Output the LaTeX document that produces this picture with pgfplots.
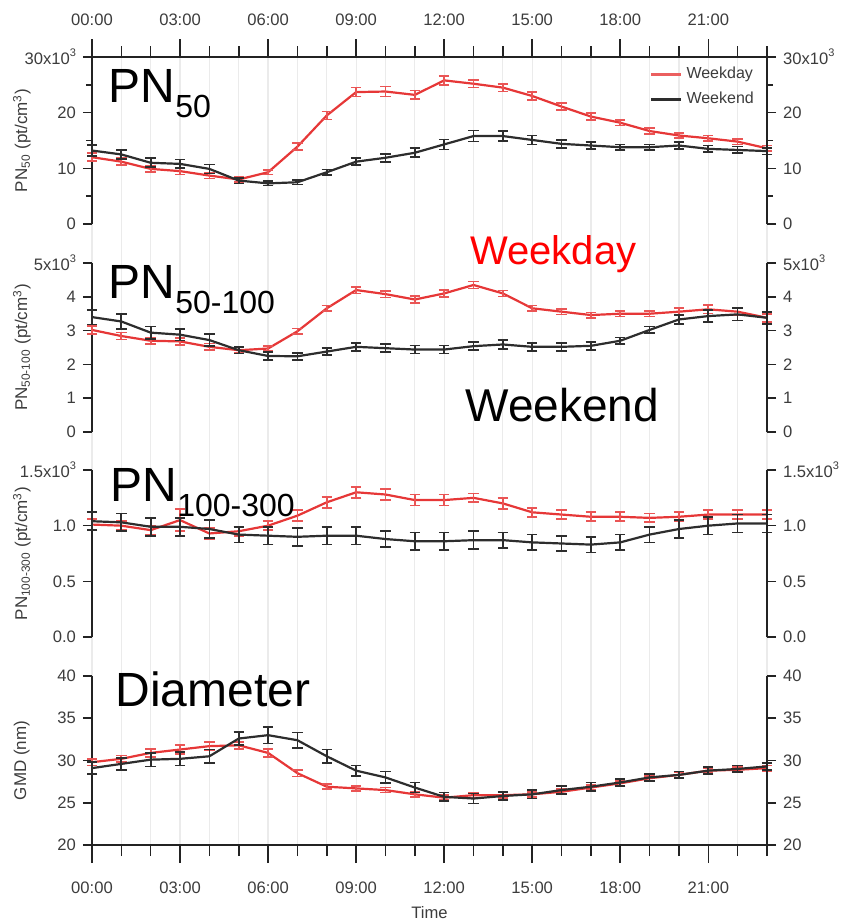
\documentclass[border=0pt]{standalone}
\usepackage{pgfplots}
\pgfplotsset{compat=1.18}
\usepackage{pgfplotstable}
\usepackage{fontspec}
\setmainfont{Liberation Sans}

\definecolor{wdcol}{RGB}{230,55,55}
\definecolor{wecol}{RGB}{45,45,45}
\definecolor{axcol}{RGB}{35,35,35}
\definecolor{lblcol}{RGB}{60,60,60}

\pgfplotstableread{
h wd wde we wee
0 12.0 0.7 13.2 1.0
1 11.2 0.6 12.5 0.8
2 9.9 0.5 11.0 0.8
3 9.5 0.6 10.8 0.8
4 8.7 0.5 9.9 0.8
5 8.0 0.4 7.8 0.5
6 9.3 0.4 7.3 0.4
7 13.9 0.6 7.5 0.4
8 19.5 0.7 9.3 0.5
9 23.7 0.8 11.2 0.6
10 23.8 0.9 11.9 0.7
11 23.2 0.8 12.8 0.8
12 25.8 0.8 14.3 0.9
13 25.2 0.7 15.8 1.0
14 24.5 0.7 15.8 0.9
15 23.0 0.7 15.1 0.8
16 21.1 0.6 14.4 0.7
17 19.3 0.6 14.1 0.6
18 18.2 0.5 13.8 0.5
19 16.7 0.5 13.8 0.5
20 15.9 0.5 14.1 0.6
21 15.4 0.5 13.5 0.6
22 14.8 0.5 13.3 0.6
23 13.6 0.5 13.1 0.6
}\pone

\pgfplotstableread{
h wd wde we wee
0 3.02 0.12 3.40 0.22
1 2.84 0.10 3.27 0.22
2 2.70 0.10 2.94 0.18
3 2.68 0.10 2.88 0.17
4 2.52 0.10 2.72 0.17
5 2.42 0.08 2.42 0.10
6 2.47 0.08 2.25 0.12
7 2.98 0.08 2.24 0.10
8 3.66 0.08 2.38 0.10
9 4.20 0.10 2.52 0.12
10 4.08 0.10 2.48 0.12
11 3.92 0.10 2.44 0.12
12 4.10 0.10 2.44 0.12
13 4.35 0.10 2.54 0.12
14 4.10 0.09 2.59 0.13
15 3.66 0.08 2.52 0.12
16 3.56 0.08 2.52 0.12
17 3.46 0.08 2.55 0.12
18 3.50 0.08 2.70 0.10
19 3.50 0.08 3.02 0.10
20 3.56 0.10 3.33 0.13
21 3.63 0.12 3.43 0.17
22 3.56 0.10 3.48 0.18
23 3.38 0.12 3.38 0.18
}\ptwo

\pgfplotstableread{
h wd wde we wee
0 1.01 0.05 1.04 0.08
1 1.00 0.04 1.03 0.08
2 0.96 0.04 0.99 0.08
3 1.05 0.10 0.99 0.08
4 0.93 0.05 0.97 0.08
5 0.95 0.04 0.92 0.07
6 1.00 0.04 0.91 0.08
7 1.09 0.05 0.90 0.08
8 1.21 0.05 0.91 0.08
9 1.30 0.05 0.91 0.08
10 1.28 0.05 0.88 0.07
11 1.23 0.05 0.86 0.08
12 1.23 0.05 0.86 0.08
13 1.25 0.04 0.87 0.08
14 1.20 0.05 0.87 0.07
15 1.12 0.04 0.85 0.07
16 1.10 0.04 0.84 0.07
17 1.08 0.04 0.83 0.07
18 1.08 0.04 0.85 0.07
19 1.07 0.04 0.92 0.07
20 1.08 0.04 0.97 0.08
21 1.10 0.04 1.00 0.08
22 1.10 0.04 1.02 0.08
23 1.10 0.04 1.02 0.08
}\pthree

\pgfplotstableread{
h wd wde we wee
0 29.8 0.4 29.1 0.7
1 30.2 0.4 29.6 0.7
2 30.9 0.5 30.1 0.8
3 31.3 0.5 30.2 0.8
4 31.7 0.5 30.5 0.8
5 31.8 0.4 32.6 0.8
6 30.9 0.5 33.0 1.0
7 28.5 0.4 32.4 0.9
8 26.9 0.3 30.5 0.8
9 26.7 0.3 28.8 0.6
10 26.5 0.3 28.0 0.7
11 26.0 0.3 26.8 0.6
12 25.6 0.3 25.7 0.5
13 25.9 0.3 25.5 0.6
14 25.9 0.3 25.8 0.5
15 26.0 0.3 26.0 0.5
16 26.3 0.3 26.5 0.5
17 26.8 0.3 26.9 0.5
18 27.3 0.3 27.4 0.4
19 27.9 0.3 28.0 0.4
20 28.3 0.3 28.3 0.4
21 28.8 0.3 28.8 0.4
22 28.9 0.3 29.0 0.4
23 29.1 0.3 29.3 0.4
}\pfour

\pgfplotsset{
  base/.style={scale only axis, width=337.5pt, xmin=0, xmax=23,
    tick align=outside, major tick length=4.5pt, minor tick length=3pt,
    tick style={line width=0.8pt, axcol},
    axis line style={line width=0.8pt, axcol},
    yticklabel style={font=\fontsize{8.3}{9}\selectfont, text=lblcol},
    xticklabel style={font=\fontsize{8.3}{9}\selectfont, text=lblcol},
    clip=false},
  leftp/.style={base, axis x line=none, axis y line*=left,
    ylabel style={at={(axis description cs:-0.104,0.5)}, anchor=center,
      font=\fontsize{8.5}{9}\selectfont, text=lblcol}},
  rightp/.style={base, axis x line=none, axis y line*=right},
  xaxp/.style={base, axis y line=none, major tick length=9pt, minor tick length=5.5pt,
    xtick={0,3,...,21}, minor xtick={1,2,4,5,7,8,10,11,13,14,16,17,19,20,22,23},
    xticklabels={00:00,03:00,06:00,09:00,12:00,15:00,18:00,21:00}},
  wdplot/.style={wdcol, line width=1.1pt, mark=none, forget plot,
    error bars/.cd, y dir=both, y explicit,
    error bar style={line width=0.85pt, wdcol!85!white},
    error mark options={rotate=90, mark size=2.6pt, line width=0.85pt, wdcol!85!white}},
  weplot/.style={wecol, line width=1.1pt, mark=none, forget plot,
    error bars/.cd, y dir=both, y explicit,
    error bar style={line width=0.85pt, wecol},
    error mark options={rotate=90, mark size=2.6pt, line width=0.85pt, wecol}},
}

\newcommand{\bigtxt}[1]{\fontsize{24}{26}\selectfont #1}
\newcommand{\subs}[1]{\raisebox{-7.5pt}{\fontsize{16}{17}\selectfont #1}}
\newcommand{\tsup}[1]{\raisebox{0.9ex}{\fontsize{5.5}{6}\selectfont #1}}

\begin{document}
\begin{tikzpicture}
\useasboundingbox (0,0) rectangle (421.5pt,-461.5pt);

% background vertical grid
\begin{axis}[scale only axis, width=337.5pt, height=394pt, at={(46pt,-28.5pt)}, anchor=north west,
  xmin=0, xmax=23, ymin=0, ymax=1, axis line style={draw=none},
  xtick={0,...,23}, xticklabels={}, ytick=\empty, major tick length=0pt,
  xmajorgrids, grid style={gray!16, line width=0.6pt}]
\end{axis}

% ---------------- Panel 1 ----------------
\begin{axis}[leftp, height=83.5pt, at={(46pt,-28.5pt)}, anchor=north west,
  ymin=0, ymax=30, ytick={0,10,20,30}, minor ytick={5,15,25},
  yticklabels={0,10,20,{30x10\tsup{3}}},
  ylabel={PN\textsubscript{50} (pt/cm\textsuperscript{3})},
  legend style={at={(axis description cs:0.987,0.965)}, anchor=north east, draw=none, fill=none,
    font=\fontsize{8}{9}\selectfont, text=lblcol, row sep=1.2pt, inner sep=0pt},
  legend cell align=left,
  legend image code/.code={\draw[#1] (0pt,0pt) -- (15pt,0pt);}]
\addplot[wdplot] table[x=h, y=wd, y error=wde] {\pone};
\addplot[weplot] table[x=h, y=we, y error=wee] {\pone};
\addlegendimage{wdcol!80!white, line width=1.1pt}
\addlegendentry{Weekday}
\addlegendimage{wecol, line width=1.1pt}
\addlegendentry{Weekend}
\node[anchor=base west, inner sep=0pt] at (axis description cs:0.024,0.73) {\bigtxt{PN}\subs{50}};
\end{axis}
\begin{axis}[rightp, height=83.5pt, at={(46pt,-28.5pt)}, anchor=north west,
  ymin=0, ymax=30, ytick={0,10,20,30}, minor ytick={5,15,25},
  yticklabels={0,10,20,{30x10\tsup{3}}}]
\end{axis}
\begin{axis}[xaxp, height=83.5pt, at={(46pt,-28.5pt)}, anchor=north west,
  ymin=0, ymax=30, axis x line*=top, xticklabel shift=3pt]
\end{axis}

% ---------------- Panel 2 ----------------
\begin{axis}[leftp, height=84.5pt, at={(46pt,-131.5pt)}, anchor=north west,
  ymin=0, ymax=5, ytick={0,1,2,3,4,5},
  yticklabels={0,1,2,3,4,{5x10\tsup{3}}},
  ylabel={PN\textsubscript{50-100} (pt/cm\textsuperscript{3})}]
\addplot[wdplot] table[x=h, y=wd, y error=wde] {\ptwo};
\addplot[weplot] table[x=h, y=we, y error=wee] {\ptwo};
\node[anchor=base west, inner sep=0pt] at (axis description cs:0.024,0.79) {\bigtxt{PN}\subs{50-100}};
\node[anchor=base west, inner sep=0pt, text=red, font=\fontsize{20}{21}\selectfont] at (axis description cs:0.56,0.99) {Weekday};
\node[anchor=base west, inner sep=0pt, font=\fontsize{23}{25}\selectfont] at (axis description cs:0.553,0.06) {Weekend};
\end{axis}
\begin{axis}[rightp, height=84.5pt, at={(46pt,-131.5pt)}, anchor=north west,
  ymin=0, ymax=5, ytick={0,1,2,3,4,5},
  yticklabels={0,1,2,3,4,{5x10\tsup{3}}}]
\end{axis}

% ---------------- Panel 3 ----------------
\begin{axis}[leftp, height=83.5pt, at={(46pt,-235pt)}, anchor=north west,
  ymin=0, ymax=1.5, ytick={0,0.5,1,1.5},
  yticklabels={0.0,0.5,1.0,{1.5x10\tsup{3}}},
  ylabel={PN\textsubscript{100-300} (pt/cm\textsuperscript{3})}]
\addplot[wdplot] table[x=h, y=wd, y error=wde] {\pthree};
\addplot[weplot] table[x=h, y=we, y error=wee] {\pthree};
\node[anchor=base west, inner sep=0pt] at (axis description cs:0.027,0.81) {\bigtxt{PN}\subs{100-300}};
\end{axis}
\begin{axis}[rightp, height=83.5pt, at={(46pt,-235pt)}, anchor=north west,
  ymin=0, ymax=1.5, ytick={0,0.5,1,1.5},
  yticklabels={0.0,0.5,1.0,{1.5x10\tsup{3}}}]
\end{axis}

% ---------------- Panel 4 ----------------
\begin{axis}[leftp, height=84.5pt, at={(46pt,-338pt)}, anchor=north west,
  ymin=20, ymax=40, ytick={20,25,30,35,40},
  yticklabels={20,25,30,35,40},
  ylabel={GMD (nm)}]
\addplot[wdplot] table[x=h, y=wd, y error=wde] {\pfour};
\addplot[weplot] table[x=h, y=we, y error=wee] {\pfour};
\node[anchor=base west, inner sep=0pt] at (axis description cs:0.034,0.817) {\bigtxt{Diameter}};
\end{axis}
\begin{axis}[rightp, height=84.5pt, at={(46pt,-338pt)}, anchor=north west,
  ymin=20, ymax=40, ytick={20,25,30,35,40},
  yticklabels={20,25,30,35,40}]
\end{axis}
\begin{axis}[xaxp, height=84.5pt, at={(46pt,-338pt)}, anchor=north west,
  ymin=20, ymax=40, axis x line*=bottom, xticklabel shift=6pt,
  xlabel={Time}, xlabel style={at={(axis description cs:0.5,-0.402)}, anchor=center,
    font=\fontsize{8.3}{9}\selectfont, text=lblcol}]
\end{axis}
\end{tikzpicture}
\end{document}
